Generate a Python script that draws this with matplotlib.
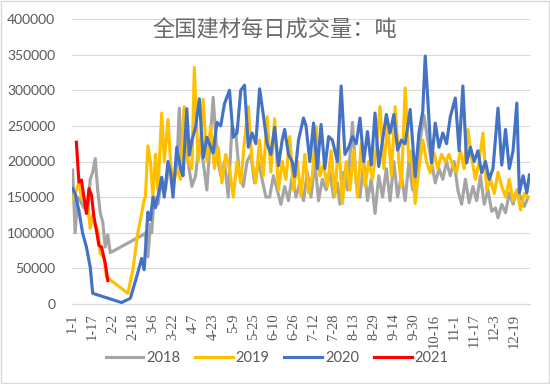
import matplotlib
matplotlib.use("Agg")
import matplotlib.pyplot as plt
from matplotlib.patches import Rectangle

# 日序号(0 = 1月1日)与当日成交量(千吨)
days_2018 = [0, 2, 4, 6, 9, 12, 14, 16, 18, 20, 22, 24, 26, 28, 30, 56, 58, 60, 62, 63,
             65, 68, 71, 74, 77, 80, 83, 85, 87, 89, 92, 95, 98, 101, 104, 107, 110, 112,
             115, 118, 121, 124, 127, 130, 133, 136, 139, 142, 145, 148, 151, 154, 157,
             160, 163, 166, 169, 172, 175, 178, 181, 184, 187, 190, 193, 196, 199, 202,
             205, 208, 211, 213, 216, 219, 223, 226, 229, 232, 235, 238, 241, 244, 247,
             250, 253, 256, 259, 262, 265, 268, 271, 274, 277, 280, 283, 286, 289, 292,
             295, 298, 301, 304, 307, 310, 313, 316, 319, 322, 325, 328, 331, 334, 337,
             339, 342, 345, 348, 351, 354, 357, 360, 363]
vals_2018 = [188, 100, 150, 145, 135, 130, 175, 185, 204, 160, 128, 115, 80, 97, 72, 97, 100,
             66, 112, 100, 150, 140, 175, 160, 200, 170, 190, 275, 190, 275, 200, 165, 180,
             230, 200, 160, 240, 290, 210, 180, 200, 150, 250, 240, 180, 165, 200, 210, 170,
             200, 175, 150, 150, 180, 160, 140, 165, 145, 180, 150, 170, 145, 185, 150, 200,
             145, 175, 160, 185, 150, 170, 140, 185, 160, 255, 170, 150, 200, 145, 175, 127,
             180, 150, 190, 145, 200, 150, 180, 145, 200, 160, 180, 230, 265, 230, 200, 170,
             190, 175, 200, 180, 200, 160, 140, 175, 142, 165, 145, 180, 140, 160, 130, 135,
             121, 140, 128, 156, 140, 160, 150, 137, 150]

days_2019 = [0, 3, 5, 7, 9, 12, 14, 16, 18, 20, 22, 25, 27, 44, 48, 52, 55, 57, 58, 60, 62,
             64, 66, 68, 71, 73, 76, 78, 80, 83, 86, 89, 92, 95, 97, 100, 102, 104, 107, 110,
             113, 116, 119, 122, 125, 128, 131, 134, 137, 140, 143, 146, 149, 152, 155, 158,
             161, 164, 167, 170, 173, 176, 179, 182, 185, 188, 191, 194, 197, 200, 203, 206,
             209, 212, 215, 218, 221, 224, 227, 230, 233, 236, 239, 242, 245, 248, 251, 254,
             257, 260, 262, 265, 268, 270, 273, 276, 279, 282, 285, 288, 291, 294, 297, 300,
             303, 306, 309, 312, 315, 318, 321, 324, 327, 330, 333, 336, 339, 342, 345, 348,
             351, 354, 357, 360, 363]
vals_2019 = [148, 160, 170, 150, 145, 141, 106, 125, 110, 105, 71, 65, 38, 15, 48, 100, 127,
             146, 150, 222, 200, 150, 210, 160, 268, 200, 259, 200, 165, 190, 175, 277, 200,
             190, 332, 200, 230, 287, 200, 250, 190, 220, 170, 210, 190, 150, 200, 170, 230,
             277, 200, 170, 230, 180, 263, 185, 260, 160, 200, 175, 235, 160, 200, 151, 210,
             156, 180, 249, 180, 195, 165, 215, 151, 230, 141, 200, 160, 215, 150, 225, 165,
             200, 175, 220, 277, 190, 254, 180, 277, 200, 165, 303, 200, 215, 141, 190, 230,
             200, 184, 212, 190, 210, 200, 210, 193, 185, 215, 190, 245, 205, 175, 200, 240,
             160, 175, 155, 185, 165, 150, 175, 145, 160, 132, 155, 150]

days_2020 = [0, 2, 5, 8, 11, 14, 16, 39, 46, 51, 55, 57, 60, 62, 64, 66, 69, 71, 73, 76, 78,
             80, 83, 86, 88, 91, 93, 95, 98, 101, 104, 107, 110, 112, 115, 118, 121, 125, 128,
             131, 134, 137, 140, 143, 146, 149, 152, 155, 158, 161, 164, 167, 169, 172, 175,
             177, 180, 184, 186, 189, 192, 195, 198, 201, 204, 207, 211, 214, 217, 220, 223,
             226, 229, 232, 235, 238, 241, 244, 247, 250, 253, 256, 259, 262, 265, 269, 273,
             276, 279, 281, 284, 286, 289, 292, 295, 298, 301, 305, 308, 311, 314, 317, 320,
             323, 326, 329, 332, 335, 339, 342, 345, 348, 351, 354, 356, 359, 362, 364]
vals_2020 = [162, 155, 131, 99, 80, 52, 15, 2, 8, 38, 64, 48, 129, 118, 150, 135, 160, 178,
             150, 200, 185, 150, 220, 190, 180, 274, 209, 230, 248, 288, 205, 234, 220, 212,
             255, 250, 281, 300, 234, 240, 300, 307, 220, 240, 225, 302, 265, 225, 210, 248,
             194, 230, 245, 210, 200, 179, 230, 261, 250, 200, 254, 190, 252, 190, 235, 230,
             200, 306, 210, 220, 235, 225, 261, 200, 242, 195, 268, 193, 230, 266, 240, 266,
             216, 230, 225, 273, 179, 240, 270, 348, 259, 198, 254, 220, 240, 225, 263, 289,
             215, 306, 198, 220, 200, 215, 184, 200, 175, 190, 275, 195, 245, 190, 215, 282,
             156, 180, 156, 181]

days_2021 = [3, 5, 7, 9, 11, 13, 15, 17, 19, 21, 23, 26, 28]
vals_2021 = [227, 171, 174, 150, 127, 162, 153, 122, 103, 82, 80, 57, 33]

tick_days = list(range(0, 365, 16))
tick_labels = ["1-1", "1-17", "2-2", "2-18", "3-6", "3-22", "4-7", "4-23", "5-9", "5-25",
               "6-10", "6-26", "7-12", "7-28", "8-13", "8-29", "9-14", "9-30", "10-16",
               "11-1", "11-17", "12-3", "12-19"]

series = [
    ("2018", days_2018, vals_2018, "#A5A5A5"),
    ("2019", days_2019, vals_2019, "#FFC000"),
    ("2020", days_2020, vals_2020, "#4472C4"),
    ("2021", days_2021, vals_2021, "#FF0000"),
]

plt.rcParams["font.family"] = ["Lato", "DejaVu Sans"]
text_color = "#595959"

fig = plt.figure(figsize=(5.5, 3.84), dpi=100)
fig.patches.append(Rectangle((0.002, 0.003), 0.996, 0.994, transform=fig.transFigure,
                             fill=False, edgecolor="#D9D9D9", linewidth=1))
ax = fig.add_axes([72 / 550, 80 / 384, 458 / 550, 285 / 384])

for name, d, v, c in series:
    ax.plot(d, [x * 1000 for x in v], color=c, linewidth=2.25, label=name,
            solid_joinstyle="round")

ax.set_xlim(-0.5, 364.5)
ax.set_ylim(0, 400000)
ax.set_yticks(range(0, 400001, 50000))
ax.set_yticklabels([str(t) for t in range(0, 400001, 50000)])
ax.set_xticks(tick_days)
ax.set_xticklabels(tick_labels, rotation=90, family=["Liberation Serif", "DejaVu Serif"],
                   fontsize=10.5)
ax.tick_params(axis="both", length=0, colors=text_color)
ax.tick_params(axis="y", labelsize=10, pad=12)
ax.tick_params(axis="x", pad=7)
ax.grid(axis="y", color="#D9D9D9", linewidth=0.8)
ax.set_axisbelow(True)
for s in ["top", "right", "left"]:
    ax.spines[s].set_visible(False)
ax.spines["bottom"].set_color("#D9D9D9")

fig.text(275 / 550, 1 - 30 / 384, "全国建材每日成交量：吨", ha="center", va="center",
         fontsize=16, color="#6A6A6A", fontweight="light",
         family=["Noto Sans CJK SC", "DejaVu Sans"])

fig.legend(loc="center", bbox_to_anchor=(277 / 550, 1 - 358 / 384), ncol=4, frameon=False,
           fontsize=10.5, handlelength=2.6, handletextpad=0.2, columnspacing=1.0,
           labelcolor=text_color)

fig.savefig("out.png", dpi=100)
